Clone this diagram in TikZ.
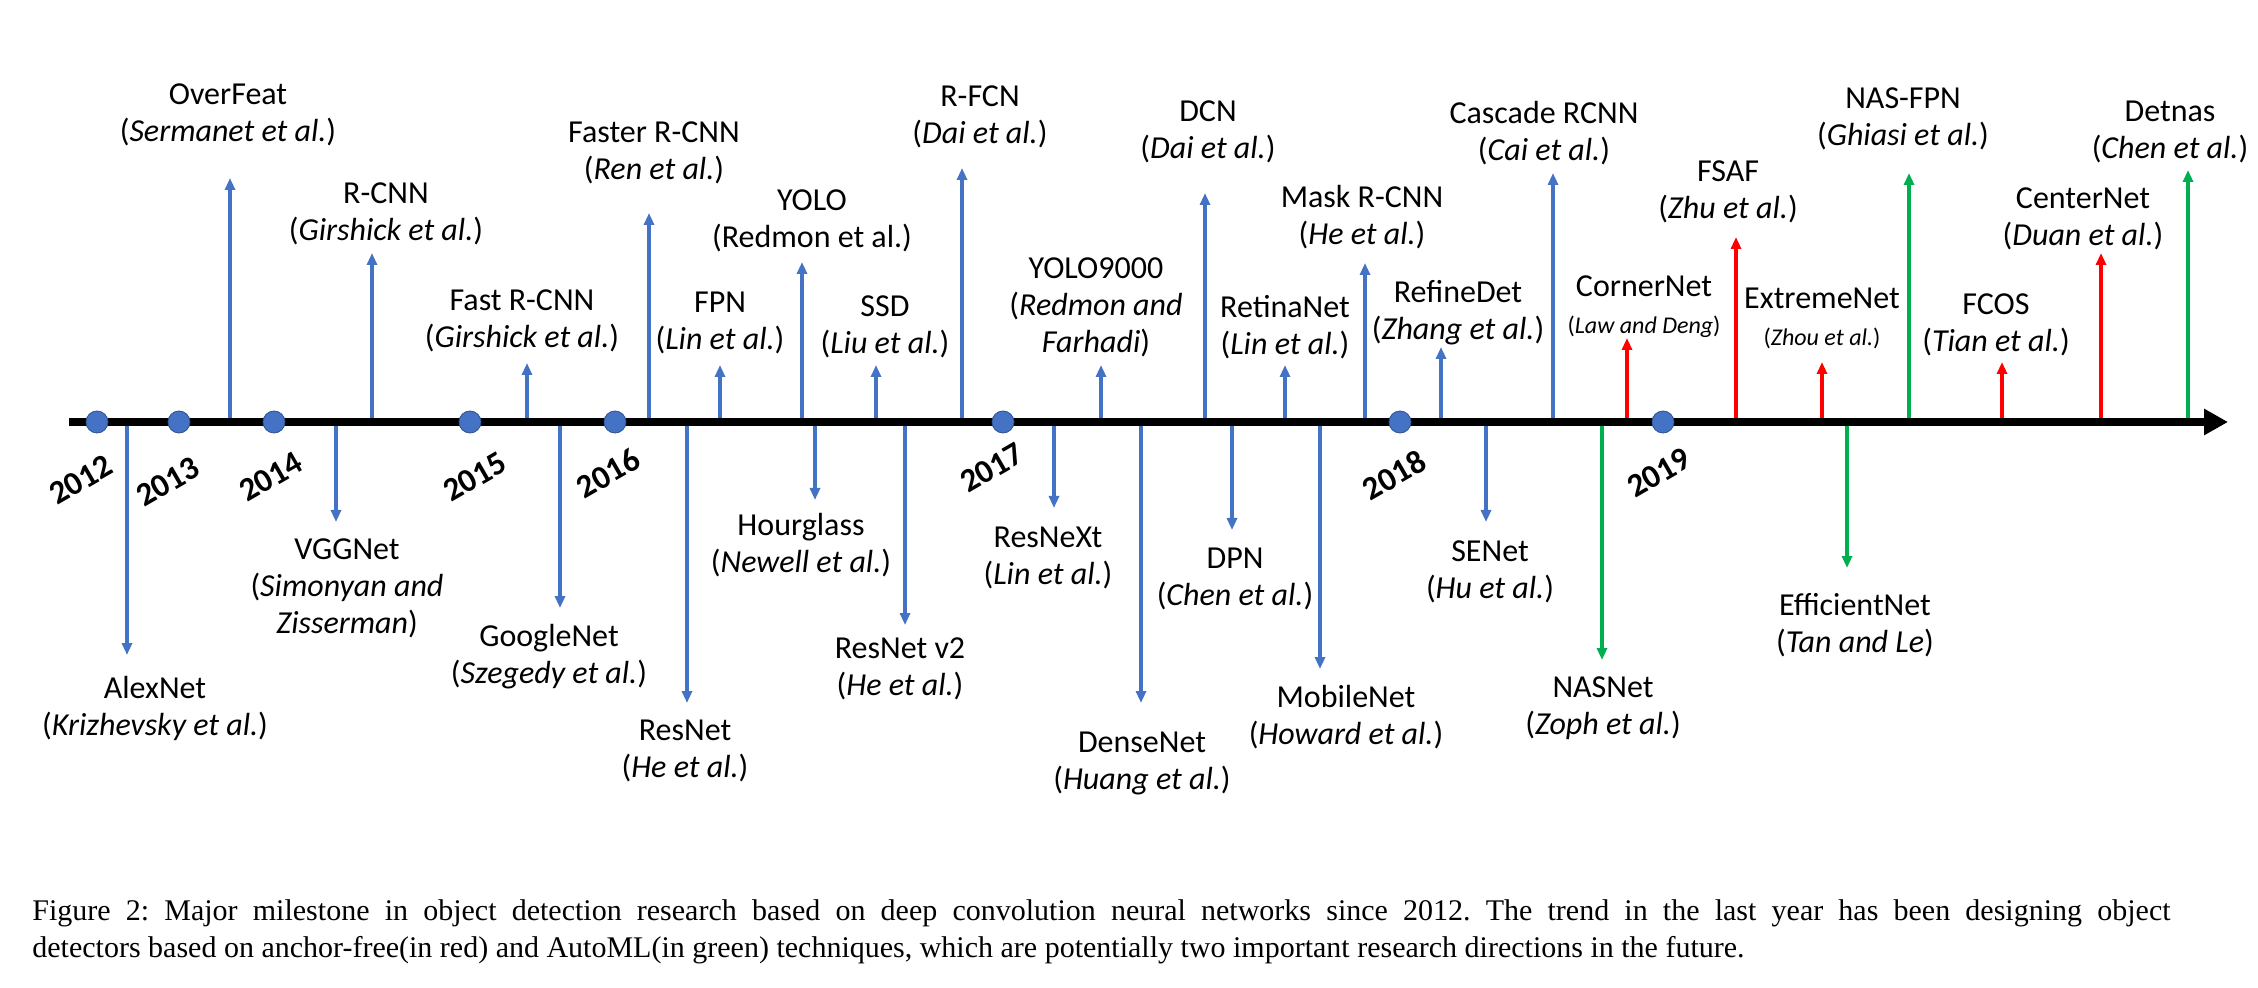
\documentclass[tikz,border=0pt]{standalone}
\usepackage{fontspec}
\setmainfont{Carlito}
\newfontfamily\capfont{Liberation Serif}
\usepackage{tikz}
\usetikzlibrary{arrows.meta}
\definecolor{msblue}{HTML}{4472C4}
\definecolor{msbluedk}{HTML}{2F528F}
\definecolor{msred}{HTML}{FF0000}
\definecolor{msgreen}{HTML}{00B050}
\begin{document}
\begin{tikzpicture}[x=0.5pt, y=-0.5pt, font=\fontsize{16}{18.5}\selectfont,
  lbl/.style={align=center, inner sep=0pt},
  stem/.style={line width=1.6pt, -{Triangle[length=6pt, width=5pt]}},
  stemb/.style={stem, msblue}, stemr/.style={stem, msred}, stemg/.style={stem, msgreen},
  dot/.style={circle, fill=msblue, draw=msbluedk, line width=0.4pt, inner sep=0pt, minimum size=11pt},
  yr/.style={font=\fontsize{16.5}{18}\selectfont\bfseries, rotate=30, inner sep=0pt}]
\useasboundingbox (0,0) rectangle (2258,988);
\coordinate (tl) at (69,422);
\coordinate (tr) at (2228,422);

\node[lbl] (overfeat) at (228,115) {OverFeat\\(\textit{Sermanet et al.})};
\node[lbl] (rcnn) at (386,214) {R-CNN\\(\textit{Girshick et al.})};
\node[lbl] (fastrcnn) at (522,321) {Fast R-CNN\\(\textit{Girshick et al.})};
\node[lbl] (fasterrcnn) at (654,153) {Faster R-CNN\\(\textit{Ren et al.})};
\node[lbl] (fpn) at (720,323) {FPN\\(\textit{Lin et al.})};
\node[lbl] (yolo) at (812,221) {YOLO\\(Redmon et al.)};
\node[lbl] (ssd) at (885,327) {SSD\\(\textit{Liu et al.})};
\node[lbl] (rfcn) at (980,117) {R-FCN\\(\textit{Dai et al.})};
\node[lbl] (yolo9000) at (1096,307) {YOLO9000\\(\textit{Redmon and}\\\textit{Farhadi})};
\node[lbl] (dcn) at (1208,132) {DCN\\(\textit{Dai et al.})};
\node[lbl] (retinanet) at (1285,327) {RetinaNet\\(\textit{Lin et al.})};
\node[lbl] (maskrcnn) at (1362,217) {Mask R-CNN\\(\textit{He et al.})};
\node[lbl] (refinedet) at (1458,313) {RefineDet\\(\textit{Zhang et al.})};
\node[lbl] (cascade) at (1544,133) {Cascade RCNN\\(\textit{Cai et al.})};
\node[lbl] (cornernet) at (1644,307) {CornerNet\\{\fontsize{12}{13}\selectfont(\textit{Law and Deng})}};
\node[lbl] (fsaf) at (1728,192) {FSAF\\(\textit{Zhu et al.})};
\node[lbl] (extremenet) at (1822,318) {ExtremeNet\\{\fontsize{12}{13}\selectfont(\textit{Zhou et al.})}};
\node[lbl] (nasfpn) at (1903,119) {NAS-FPN\\(\textit{Ghiasi et al.})};
\node[lbl] (fcos) at (1996,325) {FCOS\\(\textit{Tian et al.})};
\node[lbl] (centernet) at (2083,219) {CenterNet\\(\textit{Duan et al.})};
\node[lbl] (detnas) at (2170,132) {Detnas\\(\textit{Chen et al.})};

\node[lbl] (alexnet) at (155,708) {AlexNet\\(\textit{Krizhevsky et al.})};
\node[lbl] (vggnet) at (347,588) {VGGNet\\(\textit{Simonyan and}\\\textit{Zisserman})};
\node[lbl] (googlenet) at (549,657) {GoogleNet\\(\textit{Szegedy et al.})};
\node[lbl] (resnet) at (685,751) {ResNet\\(\textit{He et al.})};
\node[lbl] (hourglass) at (801,545) {Hourglass\\(\textit{Newell et al.})};
\node[lbl] (resnetv2) at (900,669) {ResNet v2\\(\textit{He et al.})};
\node[lbl] (resnext) at (1048,558) {ResNeXt\\(\textit{Lin et al.})};
\node[lbl] (densenet) at (1142,763) {DenseNet\\(\textit{Huang et al.})};
\node[lbl] (dpn) at (1235,579) {DPN\\(\textit{Chen et al.})};
\node[lbl] (mobilenet) at (1346,717) {MobileNet\\(\textit{Howard et al.})};
\node[lbl] (senet) at (1490,572) {SENet\\(\textit{Hu et al.})};
\node[lbl] (nasnet) at (1603,708) {NASNet\\(\textit{Zoph et al.})};
\node[lbl] (efficientnet) at (1855,625) {EfficientNet\\(\textit{Tan and Le})};

\coordinate (overfeat-t) at (230,178); \draw[stemb] (overfeat-t |- tl) -- (overfeat-t);
\coordinate (rcnn-t) at (372,253); \draw[stemb] (rcnn-t |- tl) -- (rcnn-t);
\coordinate (fastrcnn-t) at (527,363); \draw[stemb] (fastrcnn-t |- tl) -- (fastrcnn-t);
\coordinate (fasterrcnn-t) at (649,213); \draw[stemb] (fasterrcnn-t |- tl) -- (fasterrcnn-t);
\coordinate (fpn-t) at (720,365); \draw[stemb] (fpn-t |- tl) -- (fpn-t);
\coordinate (yolo-t) at (802,262); \draw[stemb] (yolo-t |- tl) -- (yolo-t);
\coordinate (ssd-t) at (876,365); \draw[stemb] (ssd-t |- tl) -- (ssd-t);
\coordinate (rfcn-t) at (962,168); \draw[stemb] (rfcn-t |- tl) -- (rfcn-t);
\coordinate (yolo9000-t) at (1101,365); \draw[stemb] (yolo9000-t |- tl) -- (yolo9000-t);
\coordinate (dcn-t) at (1205,193); \draw[stemb] (dcn-t |- tl) -- (dcn-t);
\coordinate (retinanet-t) at (1285,365); \draw[stemb] (retinanet-t |- tl) -- (retinanet-t);
\coordinate (maskrcnn-t) at (1365,263); \draw[stemb] (maskrcnn-t |- tl) -- (maskrcnn-t);
\coordinate (refinedet-t) at (1441,347); \draw[stemb] (refinedet-t |- tl) -- (refinedet-t);
\coordinate (cascade-t) at (1553,173); \draw[stemb] (cascade-t |- tl) -- (cascade-t);
\coordinate (cornernet-t) at (1627,338); \draw[stemr] (cornernet-t |- tl) -- (cornernet-t);
\coordinate (fsaf-t) at (1736,237); \draw[stemr] (fsaf-t |- tl) -- (fsaf-t);
\coordinate (extremenet-t) at (1822,362); \draw[stemr] (extremenet-t |- tl) -- (extremenet-t);
\coordinate (nasfpn-t) at (1909,173); \draw[stemg] (nasfpn-t |- tl) -- (nasfpn-t);
\coordinate (fcos-t) at (2002,362); \draw[stemr] (fcos-t |- tl) -- (fcos-t);
\coordinate (centernet-t) at (2101,253); \draw[stemr] (centernet-t |- tl) -- (centernet-t);
\coordinate (detnas-t) at (2188,170); \draw[stemg] (detnas-t |- tl) -- (detnas-t);

\coordinate (alexnet-t) at (127,655); \draw[stemb] (alexnet-t |- tl) -- (alexnet-t);
\coordinate (vggnet-t) at (336,522); \draw[stemb] (vggnet-t |- tl) -- (vggnet-t);
\coordinate (googlenet-t) at (560,608); \draw[stemb] (googlenet-t |- tl) -- (googlenet-t);
\coordinate (resnet-t) at (687,703); \draw[stemb] (resnet-t |- tl) -- (resnet-t);
\coordinate (hourglass-t) at (815,500); \draw[stemb] (hourglass-t |- tl) -- (hourglass-t);
\coordinate (resnetv2-t) at (905,625); \draw[stemb] (resnetv2-t |- tl) -- (resnetv2-t);
\coordinate (resnext-t) at (1054,508); \draw[stemb] (resnext-t |- tl) -- (resnext-t);
\coordinate (densenet-t) at (1141,703); \draw[stemb] (densenet-t |- tl) -- (densenet-t);
\coordinate (dpn-t) at (1232,530); \draw[stemb] (dpn-t |- tl) -- (dpn-t);
\coordinate (mobilenet-t) at (1320,669); \draw[stemb] (mobilenet-t |- tl) -- (mobilenet-t);
\coordinate (senet-t) at (1486,522); \draw[stemb] (senet-t |- tl) -- (senet-t);
\coordinate (nasnet-t) at (1602,660); \draw[stemg] (nasnet-t |- tl) -- (nasnet-t);
\coordinate (efficientnet-t) at (1847,568); \draw[stemg] (efficientnet-t |- tl) -- (efficientnet-t);

\draw[line width=4.3pt, -{Triangle[length=12pt, width=12.5pt]}] (tl) -- (tr);

\node[dot] (d2012) at (97,422) {};
\node[dot] (d2013) at (179,422) {};
\node[dot] (d2014) at (274,422) {};
\node[dot] (d2015) at (470,422) {};
\node[dot] (d2016) at (615,422) {};
\node[dot] (d2017) at (1003,422) {};
\node[dot] (d2018) at (1400,422) {};
\node[dot] (d2019) at (1663,422) {};
\node[yr] (y2012) at (81,480) {2012};
\node[yr] (y2013) at (168,482) {2013};
\node[yr] (y2014) at (271,477) {2014};
\node[yr] (y2015) at (475,477) {2015};
\node[yr] (y2016) at (608,473) {2016};
\node[yr] (y2017) at (992,468) {2017};
\node[yr] (y2018) at (1394,475) {2018};
\node[yr] (y2019) at (1659,473) {2019};

\node[anchor=north west, inner sep=0pt, text width=1069pt, align=justify,
  font=\capfont\fontsize{15}{18.5}\selectfont\frenchspacing] (caption) at (32,899)
  {Figure 2: Major milestone in object detection research based on deep convolution neural networks since 2012. The trend in the last year has been designing object\linebreak detectors based on anchor-free(in red) and AutoML(in green) techniques, which are potentially two important research directions in the future.};
\end{tikzpicture}
\end{document}
